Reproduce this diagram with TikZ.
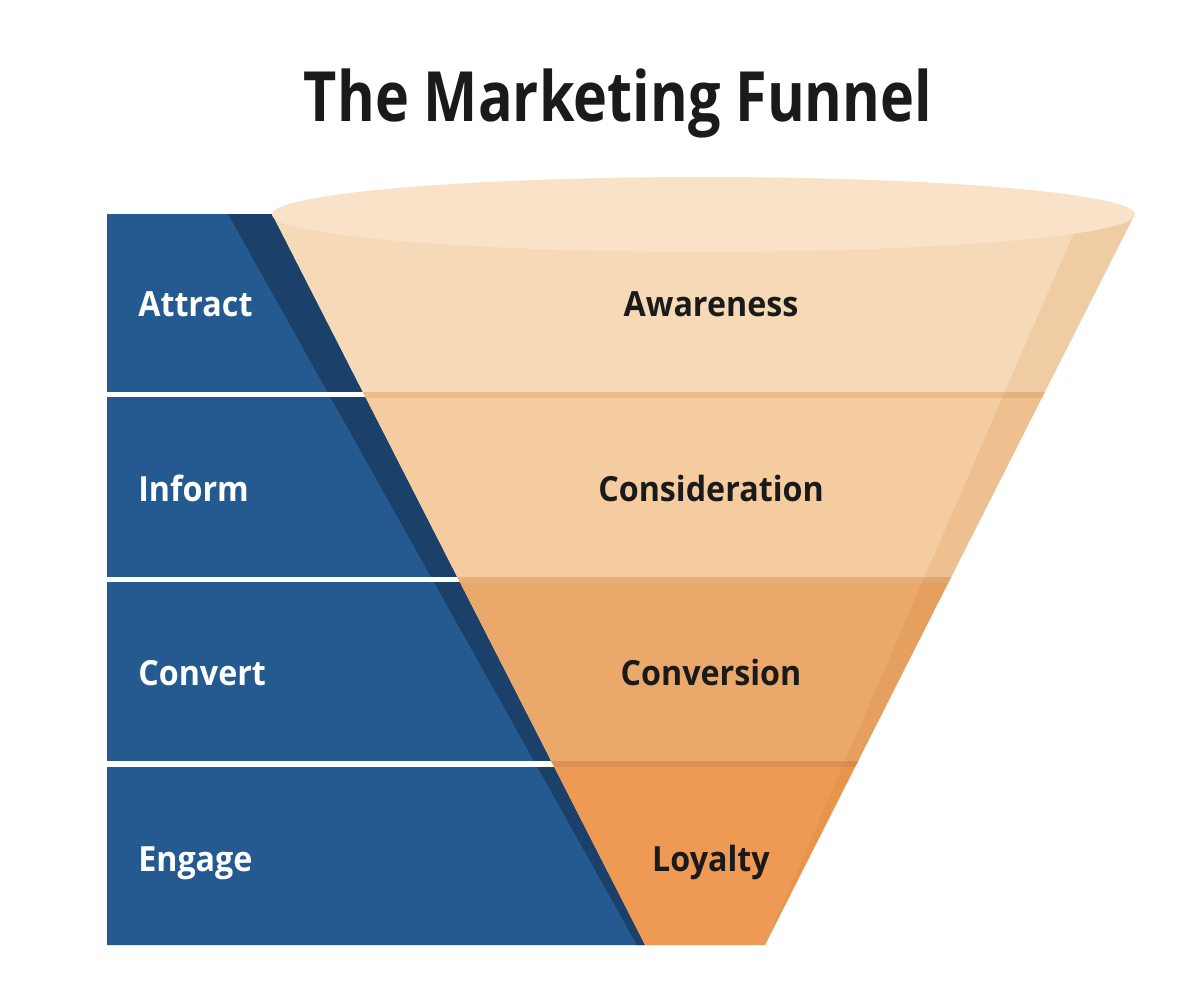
\documentclass[tikz,border=0pt]{standalone}
\usepackage{fontspec}
\setmainfont{Open Sans}
\newfontfamily\headfont[FakeStretch=0.83]{Open Sans}
\newfontfamily\tagfont[FakeStretch=0.93]{Open Sans}
\usetikzlibrary{positioning}

\definecolor{panelblue}{HTML}{245A8F}
\definecolor{panelshade}{HTML}{1B406A}
\definecolor{rimtop}{HTML}{F9E2C8}
\definecolor{awarefill}{HTML}{F6D9B6}
\definecolor{considerfill}{HTML}{F5CCA0}
\definecolor{convertfill}{HTML}{EAA86B}
\definecolor{loyalfill}{HTML}{EF9A54}
\definecolor{seamone}{HTML}{E9BB8C}
\definecolor{seamtwo}{HTML}{E8AE79}
\definecolor{seamthree}{HTML}{DE8F56}
\definecolor{sideshade}{HTML}{BA6001}
\definecolor{inkdark}{HTML}{1A1A1A}

\begin{document}
\begin{tikzpicture}[
        x=0.75pt, y=-0.75pt,
        title/.style={anchor=base, text=inkdark, inner sep=0pt, font=\headfont\fontsize{52}{60}\selectfont\bfseries},
        stage/.style={anchor=base west, text=white, inner sep=0pt, font=\tagfont\fontsize{26}{30}\selectfont\bfseries},
        phase/.style={anchor=base, text=inkdark, inner sep=0pt, font=\tagfont\fontsize{26}{30}\selectfont\bfseries}
      ]
        \useasboundingbox (0,0) rectangle (1204,1006);

        % Title
        \node[title] (heading) at (618,122) {The Marketing Funnel};

        % Blue panel
        \fill[panelblue] (107,214) -- (272,214) -- (645,945) -- (107,945) -- cycle;
        \fill[panelshade] (228,214) -- (272,214) -- (645,945) -- (637,945) -- cycle;
        \fill[white] (107,392) rectangle (600,397);
        \fill[white] (107,577) rectangle (600,582);
        \fill[white] (107,761) rectangle (600,767);

        % Funnel body
        \begin{scope}
          \clip (272,214) -- (1135,214) -- (765,945) -- (645,945) -- cycle;
          \fill[awarefill] (250,214) rectangle (1150,395);
          \fill[considerfill] (250,395) rectangle (1150,580);
          \fill[convertfill] (250,580) rectangle (1150,764);
          \fill[loyalfill] (250,764) rectangle (1150,950);
          \fill[seamone] (250,392) rectangle (1150,398);
          \fill[seamtwo] (250,577) rectangle (1150,583);
          \fill[seamthree] (250,761) rectangle (1150,767);
          \fill[sideshade, opacity=0.1] (1082,214) -- (1140,214) -- (765,945) -- cycle;
        \end{scope}

        % Funnel rim
        \fill[rimtop] (703.5,214.5) ellipse [x radius=431.5, y radius=37.5];

        % Stages
        \node[stage] (attract) at (138,316.5) {Attract};
        \node[stage] (inform) at (138,501.5) {Inform};
        \node[stage] (convert) at (138,685.5) {Convert};
        \node[stage] (engage) at (138,871.5) {Engage};

        % Phases
        \node[phase] (awareness) at (711,316.5) {Awareness};
        \node[phase] (consideration) at (711,501.5) {Consideration};
        \node[phase] (conversion) at (711,685.5) {Conversion};
        \node[phase] (loyalty) at (711,871.5) {Loyalty};

      \end{tikzpicture}
\end{document}
